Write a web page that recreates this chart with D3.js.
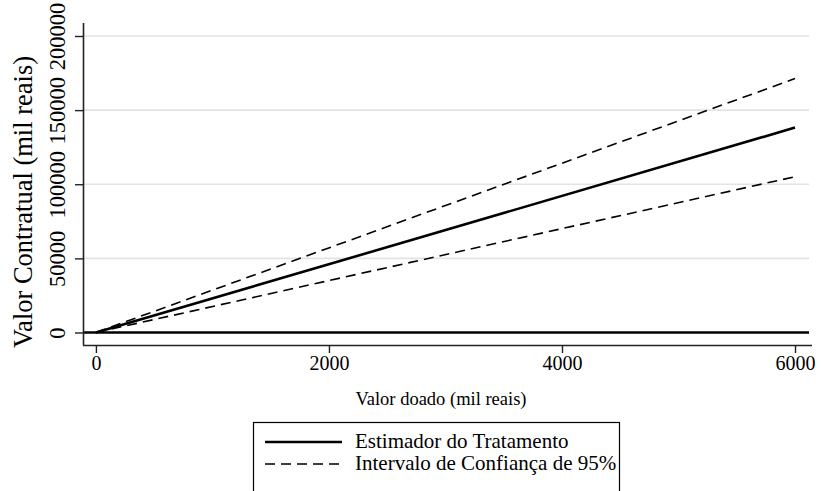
<!DOCTYPE html>
<html>
<head>
<meta charset="utf-8">
<script src="https://cdn.jsdelivr.net/npm/d3@7"></script>
<style>
  body { margin: 0; background: #fff; }
  svg text { font-family: "Liberation Serif", "Times New Roman", Times, "DejaVu Serif", serif !important; }
</style>
</head>
<body>
<script>
// data
var donated = [0, 6000];               // Valor doado (mil reais)
var estimate = [0, 138200];            // Estimador do Tratamento
var ciUpper = [0, 171300];             // Intervalo de Confianca 95% (upper)
var ciLower = [0, 105100];             // Intervalo de Confianca 95% (lower)
var xTicks = [0, 2000, 4000, 6000];
var yTicks = [0, 50000, 100000, 150000, 200000];
var legendLabels = ["Estimador do Tratamento", "Intervalo de Confiança de 95%"];

var width = 821, height = 491;
var margin = {top: 23, right: 12, bottom: 146, left: 83};
var serif = "'Liberation Serif', 'Times New Roman', Times, serif";

var svg = d3.select("body").append("svg")
    .attr("width", width)
    .attr("height", height)
    .style("display", "block");

var x = d3.scaleLinear()
    .domain([-111, 6120])
    .range([margin.left, width - margin.right]);

var y = d3.scaleLinear()
    .domain([0, 200000])
    .range([332.5, 36]);

var plotRight = 809;

// gridlines
svg.append("g")
  .selectAll("line")
  .data(yTicks.filter(function(d) { return d > 0; }))
  .enter().append("line")
    .attr("x1", margin.left)
    .attr("x2", plotRight)
    .attr("y1", function(d) { return y(d); })
    .attr("y2", function(d) { return y(d); })
    .attr("stroke", "#e3e3e3")
    .attr("stroke-width", 1.6);

// zero line
svg.append("line")
    .attr("x1", margin.left)
    .attr("x2", plotRight)
    .attr("y1", y(0))
    .attr("y2", y(0))
    .attr("stroke", "#000")
    .attr("stroke-width", 2.6);

var makeSeries = function(vals) {
  return donated.map(function(d, i) { return {x: d, y: vals[i]}; });
};

var line = d3.line()
    .x(function(d) { return x(d.x); })
    .y(function(d) { return y(d.y); });

// CI lines
[ciUpper, ciLower].forEach(function(vals) {
  svg.append("path")
      .datum(makeSeries(vals))
      .attr("d", line)
      .attr("fill", "none")
      .attr("stroke", "#000")
      .attr("stroke-width", 1.6)
      .attr("stroke-dasharray", "10,6");
});

// estimate
svg.append("path")
    .datum(makeSeries(estimate))
    .attr("d", line)
    .attr("fill", "none")
    .attr("stroke", "#000")
    .attr("stroke-width", 2.6);

// X-axis
var xAxis = svg.append("g")
    .attr("transform", "translate(0,345)")
    .call(d3.axisBottom(x).tickValues(xTicks).tickSize(8).tickSizeOuter(0).tickPadding(3).tickFormat(d3.format("d")));
xAxis.attr("font-family", serif);
xAxis.select(".domain").attr("stroke", "#222").attr("stroke-width", 1.6)
    .attr("d", "M" + margin.left + ",0.5H812");
xAxis.selectAll(".tick line").attr("stroke", "#222").attr("stroke-width", 1.4);
xAxis.selectAll(".tick text")
    .style("font-size", "20px")
    .attr("fill", "#000");

// Y-axis
var yAxis = svg.append("g")
    .attr("transform", "translate(" + margin.left + ",0)")
    .call(d3.axisLeft(y).tickValues(yTicks).tickSize(8).tickSizeOuter(0).tickFormat(d3.format("d")));
yAxis.attr("font-family", serif);
yAxis.select(".domain").attr("stroke", "#222").attr("stroke-width", 1.6)
    .attr("d", "M0.5,23V345");
yAxis.selectAll(".tick line").attr("stroke", "#222").attr("stroke-width", 1.4);
yAxis.selectAll(".tick text")
    .style("font-size", "22.5px")
    .attr("fill", "#000")
    .attr("x", null)
    .attr("dy", null)
    .attr("transform", "translate(-18,0) rotate(-90)")
    .attr("text-anchor", "middle")
    .attr("y", 0);

// axis titles
svg.append("text")
    .attr("x", 441)
    .attr("y", 405)
    .attr("text-anchor", "middle")
    .style("font-size", "18.5px")
    .text("Valor doado (mil reais)");

svg.append("text")
    .attr("transform", "translate(32,202) rotate(-90)")
    .attr("text-anchor", "middle")
    .style("font-size", "26.5px")
    .text("Valor Contratual (mil reais)");

// legend
var legend = svg.append("g");
legend.append("rect")
    .attr("x", 253.5)
    .attr("y", 422.5)
    .attr("width", 366)
    .attr("height", 80)
    .attr("fill", "#fff")
    .attr("stroke", "#000")
    .attr("stroke-width", 1.2);

var rows = legend.selectAll("g.row")
    .data(legendLabels)
    .enter().append("g")
    .attr("class", "row")
    .attr("transform", function(d, i) { return "translate(0," + (442 + i * 22) + ")"; });

rows.append("line")
    .attr("x1", 265)
    .attr("x2", 342)
    .attr("stroke", "#000")
    .attr("stroke-width", function(d, i) { return i === 0 ? 2.6 : 1.6; })
    .attr("stroke-dasharray", function(d, i) { return i === 0 ? null : "10,6"; });

rows.append("text")
    .attr("x", 355)
    .attr("y", 6)
    .style("font-size", "21px")
    .text(function(d) { return d; });
</script>
</body>
</html>
